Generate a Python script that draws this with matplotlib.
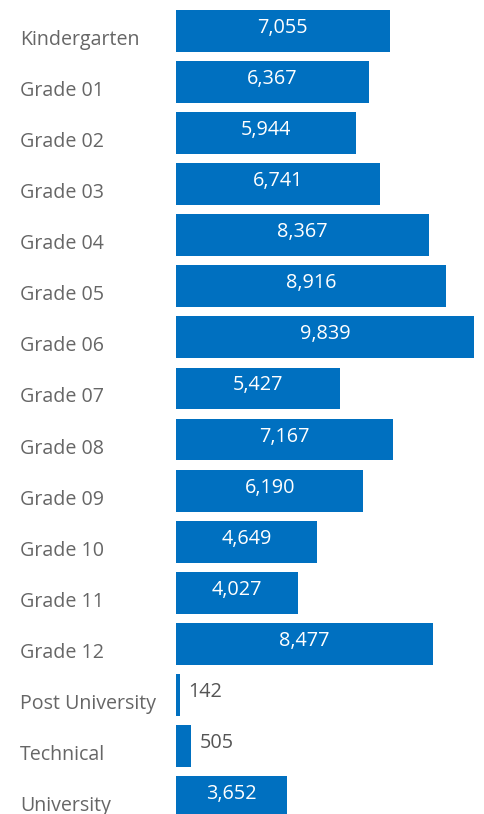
import matplotlib
matplotlib.use("Agg")
import matplotlib.pyplot as plt
from matplotlib.transforms import ScaledTranslation, blended_transform_factory

# ---- data ----
categories = ["Kindergarten", "Grade 01", "Grade 02", "Grade 03", "Grade 04",
              "Grade 05", "Grade 06", "Grade 07", "Grade 08", "Grade 09",
              "Grade 10", "Grade 11", "Grade 12", "Post University",
              "Technical", "University"]
values = [7055, 6367, 5944, 6741, 8367, 8916, 9839, 5427, 7167, 6190,
          4649, 4027, 8477, 142, 505, 3652]

BAR = "#0070C0"
GREY = "#666666"
FONT = ["Open Sans", "DejaVu Sans"]
plt.rcParams["font.family"] = FONT

W, H, DPI = 484, 814, 100
fig = plt.figure(figsize=(W / DPI, H / DPI), dpi=DPI)

# axes placed in pixel terms: bars from x=176 to 474, rows 51.07 px apart
pitch = 51.07
top_px = 31 - pitch / 2
bot_px = top_px + pitch * len(categories)
ax = fig.add_axes([176 / W, (H - bot_px) / H, (474 - 176) / W, (bot_px - top_px) / H])
ax.set_xlim(0, max(values))
ax.set_ylim(len(categories) - 0.5, -0.5)
ax.axis("off")

pos = list(range(len(categories)))
ax.barh(pos, values, height=0.82, color=BAR)

up = ScaledTranslation(0, 3 / DPI, fig.dpi_scale_trans)
down = ScaledTranslation(0, -9 / DPI, fig.dpi_scale_trans)
right = ScaledTranslation(8 / DPI, 3 / DPI, fig.dpi_scale_trans)

for y, v in zip(pos, values):
    lbl = f"{v:,}"
    if v < 1500:
        ax.text(v, y, lbl, ha="left", va="center", color="#555555",
                fontsize=14.3, transform=ax.transData + right)
    else:
        ax.text(v / 2, y, lbl, ha="center", va="center", color="white",
                fontsize=14.3, transform=ax.transData + up)

# category labels, left-aligned at x=20 px, sitting a bit below the bar centre
tr = blended_transform_factory(fig.transFigure, ax.transData) + down
for y, c in zip(pos, categories):
    fig.text(20 / W, y, c, ha="left", va="center", color=GREY,
             fontsize=14.1, transform=tr)

fig.savefig("out.png", dpi=DPI)
